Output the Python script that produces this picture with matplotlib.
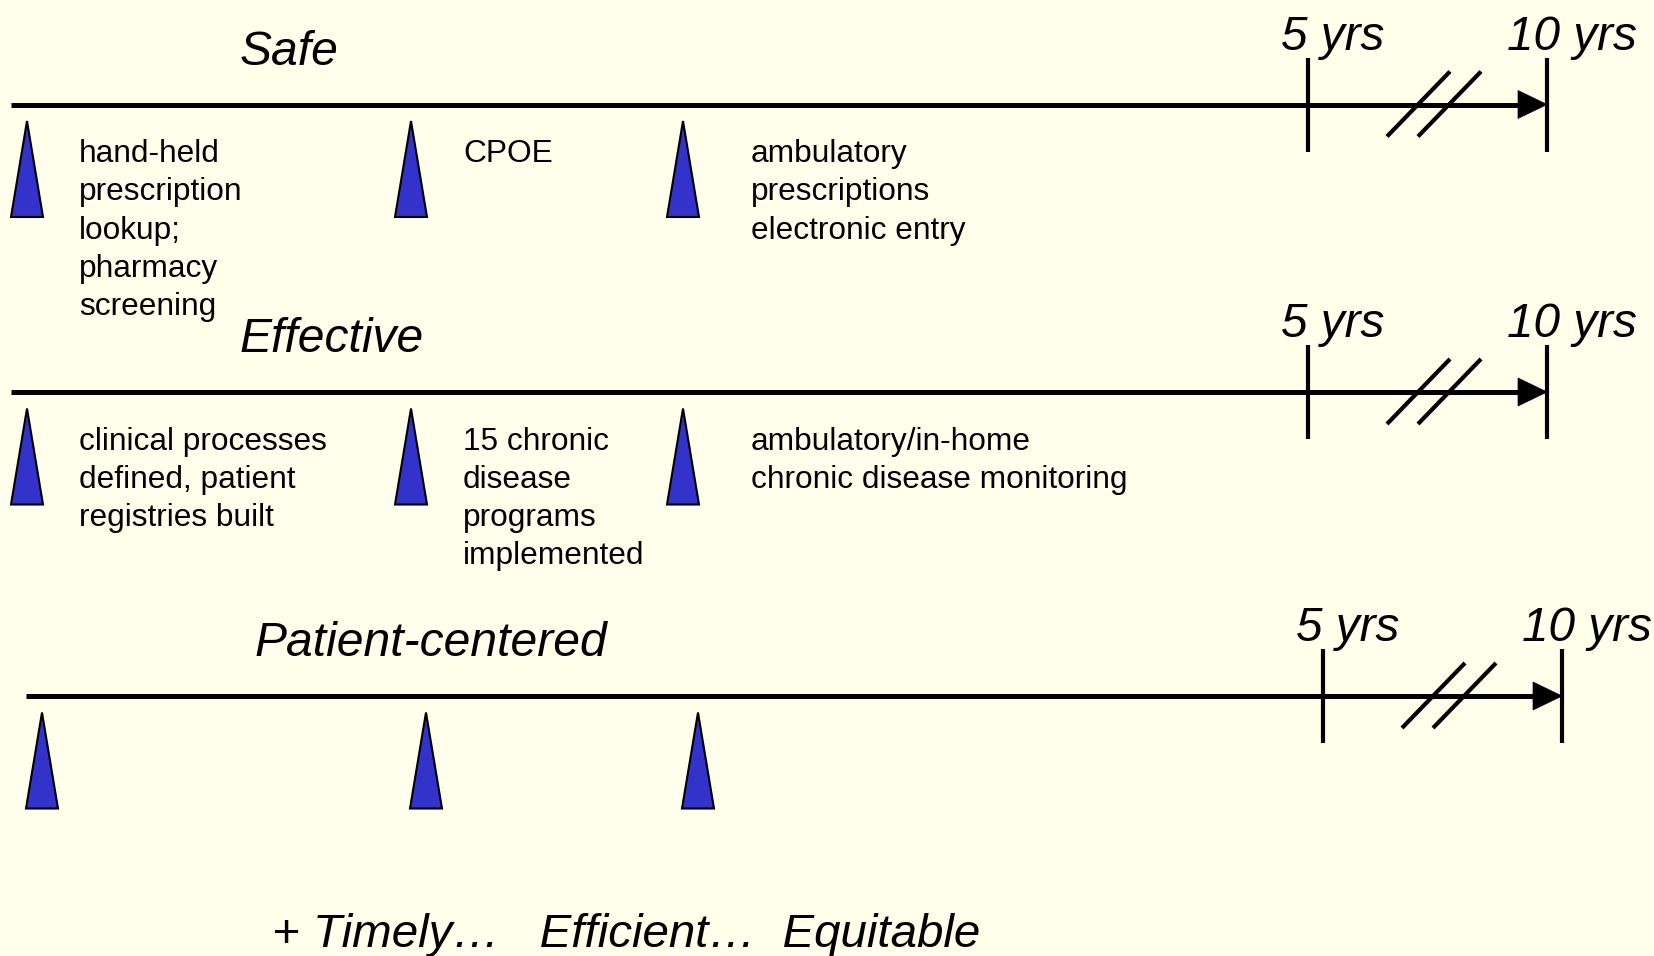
import matplotlib.pyplot as plt
from matplotlib.patches import Polygon

plt.rcParams['font.family'] = ['Liberation Sans', 'DejaVu Sans']

# timeline rows
row_titles = ['Safe', 'Effective', 'Patient-centered']
row_y = [104.5, 392, 696]          # vertical position of each timeline
row_shift = [0, 0, 15]             # third row is nudged right a bit

# milestones (same for every row): triangle centre and text start
milestone_x = [27, 411, 683]
label_x = [79, 463, 751]
milestone_labels = [
    ['hand-held\nprescription\nlookup;\npharmacy\nscreening',
     'CPOE',
     'ambulatory\nprescriptions\nelectronic entry'],
    ['clinical processes\ndefined, patient\nregistries built',
     '15 chronic\ndisease\nprograms\nimplemented',
     'ambulatory/in-home\nchronic disease monitoring'],
    ['', '', ''],
]

# time marks
mark_labels = ['5 yrs', '10 yrs']
mark_x = [1308, 1547]
mark_text_dx = [-27, -40]

footer = '+ Timely\u2026   Efficient\u2026  Equitable'

bg = '#FFFFEB'
blue = '#3333CC'

fig = plt.figure(figsize=(16.54, 9.56), dpi=100)
fig.patch.set_facecolor(bg)
ax = fig.add_axes([0, 0, 1, 1])
ax.set_facecolor(bg)
ax.set_xlim(0, 1654)
ax.set_ylim(956, 0)
ax.axis('off')

for r, title in enumerate(row_titles):
    y = row_y[r]
    dx = row_shift[r]
    tip = mark_x[1] + dx

    # main line + arrow head
    ax.plot([10.5 + dx, tip - 20], [y, y], color='k', lw=3.6, solid_capstyle='butt')
    ax.add_patch(Polygon([(tip - 29, y - 14), (tip, y), (tip - 29, y + 14)],
                         closed=True, facecolor='k', edgecolor='k', lw=0.5))

    # year ticks and labels
    for lab, mx, tdx in zip(mark_labels, mark_x, mark_text_dx):
        ax.plot([mx + dx, mx + dx], [y - 47, y + 47], color='k', lw=3.0,
                solid_capstyle='butt')
        ax.text(mx + dx + tdx, y - 55, lab, fontsize=34.4, style='italic',
                ha='left', va='baseline')

    # break marks
    for sx in (1387, 1418):
        ax.plot([sx + dx, sx + 63 + dx], [y + 32, y - 33], color='k', lw=3.0,
                solid_capstyle='butt')

    # title
    ax.text(240 + dx, y - 39.5, title, fontsize=34.6, style='italic',
            ha='left', va='baseline')

    # milestones
    for cx, lx, txt in zip(milestone_x, label_x, milestone_labels[r]):
        cx += dx
        ax.add_patch(Polygon([(cx - 16, y + 112.5), (cx, y + 16.5), (cx + 16, y + 112.5)],
                             closed=True, facecolor=blue, edgecolor='k', lw=1.5))
        for i, line in enumerate(txt.split('\n')):
            if line:
                ax.text(lx + dx, y + 57.5 + i * 38.3, line, fontsize=22.8,
                        ha='left', va='baseline')

ax.text(272, 947, footer, fontsize=34.2, style='italic', ha='left', va='baseline')

fig.savefig('out.png', dpi=100, facecolor=bg)
